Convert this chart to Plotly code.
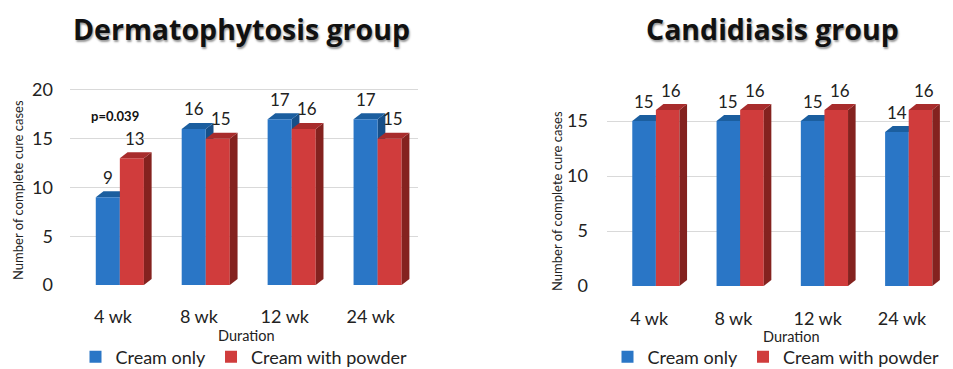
import plotly.graph_objects as go

categories = ["4 wk", "8 wk", "12 wk", "24 wk"]
derm_cream = [9, 16, 17, 17]
derm_powder = [13, 15, 16, 15]
cand_cream = [15, 15, 15, 14]
cand_powder = [16, 16, 16, 16]
series_names = ["Cream only", "Cream with powder"]
left_ticks = [0, 5, 10, 15, 20]
right_ticks = [0, 5, 10, 15]

BLUE = "#2a76c6"
BLUE_TOP = "#1b5e9f"
BLUE_SIDE = "#174f88"
RED = "#d03c3c"
RED_TOP = "#a82c2c"
RED_SIDE = "#84221f"
FONT = "Lato, 'Open Sans', sans-serif"
TFONT = "'Open Sans', sans-serif"

W, H = 953, 369
fig = go.Figure()
xs = list(range(len(categories)))

B_OFF, B_W = -0.2, 0.28
R_OFF, R_W = 0.08, 0.28
DX = 0.09

panels = [
    dict(xa="x", ya="y", leg="legend", cream=derm_cream, powder=derm_powder, ppu=9.75),
    dict(xa="x2", ya="y2", leg="legend2", cream=cand_cream, powder=cand_powder, ppu=11.0),
]

shapes = []
annotations = []
for p in panels:
    dy = 6.0 / p["ppu"]
    for k, (vals, off, w, col) in enumerate([(p["cream"], B_OFF, B_W, BLUE), (p["powder"], R_OFF, R_W, RED)]):
        fig.add_trace(go.Bar(
            x=xs, y=vals, offset=off, width=w, name=series_names[k],
            marker=dict(color=col, line=dict(width=0)),
            xaxis=p["xa"], yaxis=p["ya"], legend=p["leg"], showlegend=True,
        ))
    for i, (vb, vr) in enumerate(zip(p["cream"], p["powder"])):
        x0, x1 = i + B_OFF, i + B_OFF + B_W
        shapes.append(dict(type="path", xref=p["xa"], yref=p["ya"], layer="between",
                           path=f"M {x1},0 L {x1+DX},{dy} L {x1+DX},{vb+dy} L {x1},{vb} Z",
                           fillcolor=BLUE_SIDE, line=dict(width=0)))
        shapes.append(dict(type="path", xref=p["xa"], yref=p["ya"], layer="between",
                           path=f"M {x0},{vb} L {x1},{vb} L {x1+DX},{vb+dy} L {x0+DX},{vb+dy} Z",
                           fillcolor=BLUE_TOP, line=dict(width=0)))
        x0, x1 = i + R_OFF, i + R_OFF + R_W
        shapes.append(dict(type="path", xref=p["xa"], yref=p["ya"], layer="above",
                           path=f"M {x1},0 L {x1+DX},{dy} L {x1+DX},{vr+dy} L {x1},{vr} Z",
                           fillcolor=RED_SIDE, line=dict(width=0)))
        shapes.append(dict(type="path", xref=p["xa"], yref=p["ya"], layer="above",
                           path=f"M {x0},{vr} L {x1},{vr} L {x1+DX},{vr+dy} L {x0+DX},{vr+dy} Z",
                           fillcolor=RED_TOP, line=dict(width=0)))
        annotations.append(dict(x=i + B_OFF + B_W / 2, y=vb, xref=p["xa"], yref=p["ya"],
                                text=str(vb), showarrow=False, yshift=20,
                                font=dict(size=17, color="#222", family=FONT)))
        annotations.append(dict(x=i + R_OFF + R_W / 2 + 0.04, y=vr, xref=p["xa"], yref=p["ya"],
                                text=str(vr), showarrow=False, yshift=20,
                                font=dict(size=17, color="#222", family=FONT)))

annotations.append(dict(x=0, y=derm_powder[0], xref="x", yref="y", text="<b>p=0.039</b>",
                        showarrow=False, yshift=42, xshift=2,
                        font=dict(size=13, color="#111", family=FONT)))


def paper_text(text, xc, yc, size, family, angle=0, shadow=None, color="#222"):
    f = dict(size=size, color=color, family=family)
    if shadow:
        f["shadow"] = shadow
    return dict(x=xc / W, y=1 - yc / H, xref="paper", yref="paper", text=text,
                textangle=angle, showarrow=False, xanchor="center", yanchor="middle", font=f)


annotations.append(paper_text("<b>Dermatophytosis group</b>", 241, 29, 28.5, TFONT,
                              shadow="1px 2px 2px #999", color="#111"))
annotations.append(paper_text("<b>Candidiasis group</b>", 772, 29, 28.5, TFONT,
                              shadow="1px 2px 2px #999", color="#111"))
annotations.append(paper_text("Number of complete cure cases", 18, 190, 13, FONT, angle=-90))
annotations.append(paper_text("Number of complete cure cases", 557, 201, 13, FONT, angle=-90))
annotations.append(paper_text("Duration", 247, 335, 14.5, FONT))
annotations.append(paper_text("Duration", 791, 336, 14.5, FONT))

axis_common = dict(showline=False, zeroline=False, ticks="", tickfont=dict(size=18, color="#222", family=FONT))
fig.update_layout(
    width=W, height=H, margin=dict(l=0, r=0, t=0, b=0, autoexpand=False),
    paper_bgcolor="white", plot_bgcolor="white", barmode="overlay",
    shapes=shapes, annotations=annotations,
    xaxis=dict(domain=[70 / W, 418 / W], range=[-0.5, 3.55], tickvals=xs, ticktext=categories,
               showgrid=False, ticklabelstandoff=19, anchor="y", **axis_common),
    yaxis=dict(domain=[(H - 285) / H, (H - 85) / H], range=[0, 20.5], tickvals=left_ticks,
               showgrid=True, gridcolor="#d9d9d9", ticklabelstandoff=16, anchor="x", **axis_common),
    xaxis2=dict(domain=[607 / W, 950 / W], range=[-0.5, 3.57], tickvals=xs, ticktext=categories,
                showgrid=False, ticklabelstandoff=20, anchor="y2", **axis_common),
    yaxis2=dict(domain=[(H - 286) / H, (H - 93.5) / H], range=[0, 17.5], tickvals=right_ticks,
                showgrid=True, gridcolor="#d9d9d9", ticklabelstandoff=18, anchor="x2", **axis_common),
    legend=dict(orientation="h", x=244 / W, y=(H - 357) / H, xanchor="center", yanchor="middle",
                font=dict(size=18, color="#222", family=FONT), bgcolor="rgba(0,0,0,0)"),
    legend2=dict(orientation="h", x=776 / W, y=(H - 357) / H, xanchor="center", yanchor="middle",
                 font=dict(size=18, color="#222", family=FONT), bgcolor="rgba(0,0,0,0)"),
)

fig.write_html("out.html")
